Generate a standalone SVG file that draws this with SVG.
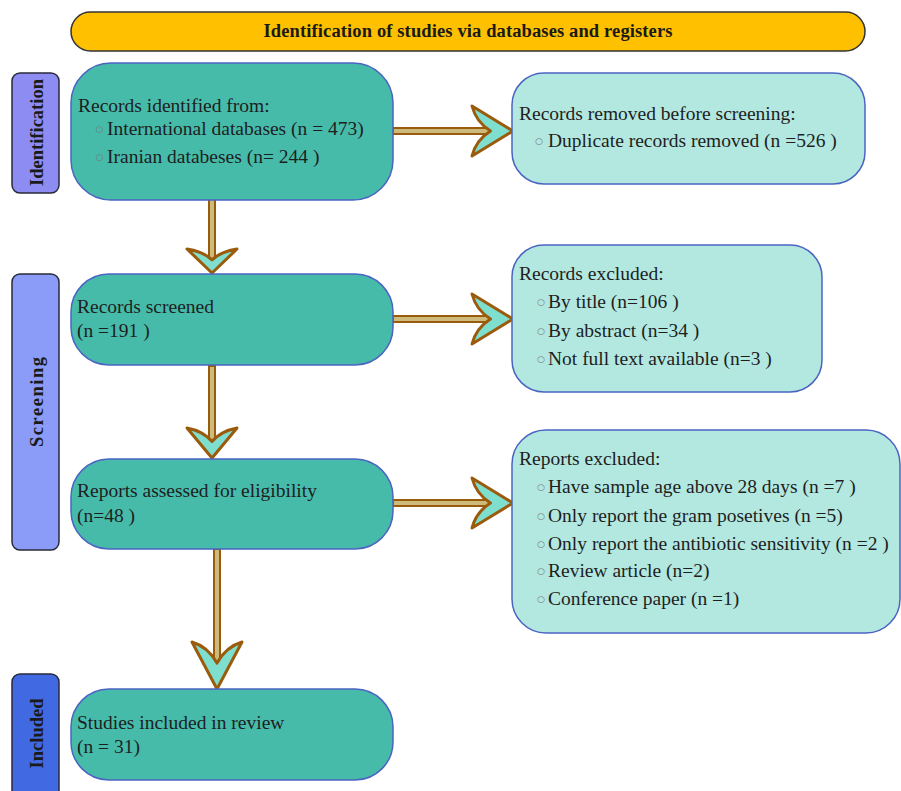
<svg xmlns="http://www.w3.org/2000/svg" width="901" height="791" viewBox="0 0 901 791">
<style>
.t{font-family:"Liberation Serif","Times New Roman",serif;font-size:19.5px;fill:#1e1e1e}
.b{font-family:"DejaVu Sans",sans-serif;font-size:9px;fill:#777}
.side{font-family:"Liberation Serif","Times New Roman",serif;font-size:18.5px;font-weight:bold;fill:#1a1a1a;text-anchor:middle}
.main{fill:#46BBAA;stroke:#4B64C2;stroke-width:1.5}
.out{fill:#B3E8E0;stroke:#4B64C2;stroke-width:1.5}
.sb{stroke:#2a2a3a;stroke-width:1.5}
.shaft{fill:#CDBB7C;stroke:#9A5B0C;stroke-width:2}
.head{fill:#7FDFCF;stroke:#9A5B0C;stroke-width:3;stroke-linejoin:round}
</style>
<rect width="901" height="791" fill="#ffffff"/>
<g id="banner">
<rect x="71" y="12" width="794" height="39" rx="19.5" fill="#FFC000" stroke="#333" stroke-width="1.5"/>
<text x="468" y="37" font-family="'Liberation Serif','Times New Roman',serif" font-size="18.5" font-weight="bold" fill="#1a1a1a" text-anchor="middle" textLength="409" lengthAdjust="spacing">Identification of studies via databases and registers</text>
</g>
<g id="phase-identification">
<rect class="sb" x="12" y="73" width="47" height="120" rx="8" fill="#8C8CF2"/>
<text class="side" transform="translate(43,132.5) rotate(-90)">Identification</text>
</g>
<g id="phase-screening">
<rect class="sb" x="12" y="274" width="47" height="276" rx="8" fill="#8A9CF8"/>
<text class="side" transform="translate(43,402) rotate(-90)" textLength="90" lengthAdjust="spacing">Screening</text>
</g>
<g id="phase-included">
<rect class="sb" x="12" y="674" width="47" height="140" rx="8" fill="#4169E1"/>
<text class="side" transform="translate(43,733.5) rotate(-90)">Included</text>
</g>
<g id="connectors">
<rect class="shaft" x="393" y="128" width="100" height="6"/>
<path class="head" transform="translate(513,131)" d="M-41,-25 Q-20.5,-12.5 0,0 Q-20.5,12.5 -41,25 Q-36.9,9 -22.5,0 Q-36.9,-9 -41,-25 Z"/>
<rect class="shaft" x="393" y="316" width="100" height="6"/>
<path class="head" transform="translate(513,319)" d="M-41,-25 Q-20.5,-12.5 0,0 Q-20.5,12.5 -41,25 Q-36.9,9 -22.5,0 Q-36.9,-9 -41,-25 Z"/>
<rect class="shaft" x="393" y="500" width="100" height="6"/>
<path class="head" transform="translate(513,503)" d="M-41,-25 Q-20.5,-12.5 0,0 Q-20.5,12.5 -41,25 Q-36.9,9 -22.5,0 Q-36.9,-9 -41,-25 Z"/>
<rect class="shaft" x="209" y="199" width="6" height="62"/>
<path class="head" transform="translate(212,273) rotate(90)" d="M-24,-25 Q-12,-12.5 0,0 Q-12,12.5 -24,25 Q-21.6,9 -13.2,0 Q-21.6,-9 -24,-25 Z"/>
<rect class="shaft" x="209" y="366" width="6" height="77"/>
<path class="head" transform="translate(212,458) rotate(90)" d="M-30,-25 Q-15,-12.5 0,0 Q-15,12.5 -30,25 Q-27,9 -16.5,0 Q-27,-9 -30,-25 Z"/>
<rect class="shaft" x="214" y="549" width="6" height="116"/>
<path class="head" transform="translate(217,689) rotate(90)" d="M-47,-25 Q-23.5,-12.5 0,0 Q-23.5,12.5 -47,25 Q-42.3,9 -25.9,0 Q-42.3,-9 -47,-25 Z"/>
</g>
<g id="records-identified">
<rect class="main" x="71" y="63" width="322" height="137" rx="40"/>
<text class="t" x="78" y="112">Records identified from:</text>
<text class="b" x="95.5" y="132">○</text><text class="t" x="107" y="135">International databases (n = 473)</text>
<text class="b" x="95.5" y="160">○</text><text class="t" x="107" y="163">Iranian databeses (n= 244 )</text>
</g>
<g id="records-removed">
<rect class="out" x="512" y="73" width="353" height="111" rx="32"/>
<text class="t" x="519" y="120">Records removed before screening:</text>
<text class="b" x="535" y="144">○</text><text class="t" x="548" y="147">Duplicate records removed  (n =526 )</text>
</g>
<g id="records-screened">
<rect class="main" x="71" y="274" width="322" height="91" rx="38"/>
<text class="t" x="77" y="313">Records screened</text>
<text class="t" x="77" y="337">(n =191 )</text>
</g>
<g id="records-excluded">
<rect class="out" x="512" y="245" width="310" height="147" rx="32"/>
<text class="t" x="519" y="280">Records excluded:</text>
<text class="b" x="537" y="305">○</text><text class="t" x="548" y="308">By title (n=106 )</text>
<text class="b" x="537" y="334">○</text><text class="t" x="548" y="337">By abstract (n=34 )</text>
<text class="b" x="537" y="362">○</text><text class="t" x="548" y="365">Not full text available (n=3 )</text>
</g>
<g id="reports-assessed">
<rect class="main" x="71" y="459" width="322" height="90" rx="38"/>
<text class="t" x="77" y="497">Reports assessed for eligibility</text>
<text class="t" x="77" y="522">(n=48 )</text>
</g>
<g id="reports-excluded">
<rect class="out" x="512" y="430" width="388" height="203" rx="34"/>
<text class="t" x="519" y="465">Reports excluded:</text>
<text class="b" x="537" y="490">○</text><text class="t" x="548" y="493">Have sample age above 28 days (n =7 )</text>
<text class="b" x="537" y="519">○</text><text class="t" x="548" y="522">Only report the gram posetives (n =5)</text>
<text class="b" x="537" y="547">○</text><text class="t" x="548" y="550">Only report the antibiotic sensitivity (n =2 )</text>
<text class="b" x="537" y="574">○</text><text class="t" x="548" y="577">Review article (n=2)</text>
<text class="b" x="537" y="602">○</text><text class="t" x="548" y="605">Conference paper (n =1)</text>
</g>
<g id="studies-included">
<rect class="main" x="71" y="689" width="322" height="91" rx="38"/>
<text class="t" x="77" y="729">Studies included in review</text>
<text class="t" x="77" y="753">(n = 31)</text>
</g>
</svg>
